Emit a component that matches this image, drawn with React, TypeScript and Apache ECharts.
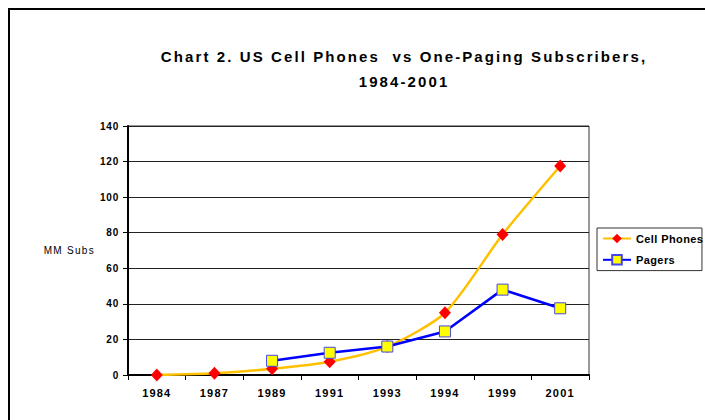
import React, { useEffect, useRef } from "react";
import * as echarts from "echarts";

const years = ["1984", "1987", "1989", "1991", "1993", "1994", "1999", "2001"];
const cellPhones = [0, 1, 3.5, 7.5, 16, 35, 79, 117.5];
const pagers: (number | null)[] = [null, null, 8, 12.5, 16, 24.5, 48, 37.5];
const seriesNames = ["Cell Phones", "Pagers"];
const titleLines = ["Chart 2. US Cell Phones  vs One-Paging Subscribers,", "1984-2001"];
const yAxisName = "MM Subs";
const yMin = 0;
const yMax = 140;
const yInterval = 20;

const FONT = "'Liberation Sans', Arial, sans-serif";

export default function App() {
  const ref = useRef<HTMLDivElement>(null);

  useEffect(() => {
    if (!ref.current) return;
    const chart = echarts.init(ref.current, undefined, { renderer: "svg" });
    chart.setOption({
      animation: false,
      backgroundColor: "#ffffff",
      title: {
        text: titleLines.join("\n"),
        left: 399,
        top: 38.5,
        textAlign: "center",
        textStyle: {
          fontFamily: FONT,
          fontSize: 15,
          fontWeight: "bold",
          color: "#000",
          lineHeight: 25,
        },
      },
      legend: {
        orient: "vertical",
        left: 597,
        top: 228,
        padding: [5, 3, 5, 5],
        itemWidth: 28,
        itemHeight: 12,
        itemGap: 10,
        borderColor: "#333",
        borderWidth: 1,
        backgroundColor: "#fff",
        data: seriesNames,
        textStyle: { fontFamily: FONT, fontSize: 11, fontWeight: "bold", color: "#000" },
      },
      grid: {
        left: 128,
        right: 116,
        top: 126,
        bottom: 45,
        show: true,
        borderColor: "#333",
        borderWidth: 1,
      },
      xAxis: {
        type: "category",
        data: years,
        boundaryGap: true,
        axisLine: { lineStyle: { color: "#000", width: 2 } },
        axisTick: { show: true, length: 5, lineStyle: { color: "#000", width: 1 } },
        axisLabel: {
          fontFamily: FONT,
          fontSize: 11,
          fontWeight: "bold",
          color: "#000",
          margin: 12,
        },
        splitLine: { show: false },
      },
      yAxis: {
        type: "value",
        min: yMin,
        max: yMax,
        interval: yInterval,
        name: yAxisName,
        nameLocation: "middle",
        nameRotate: 0,
        nameGap: 33,
        nameTextStyle: { fontFamily: FONT, fontSize: 10, color: "#000" },
        axisLine: { show: true, lineStyle: { color: "#000", width: 2 } },
        axisTick: { show: true, length: 5, lineStyle: { color: "#000", width: 1 } },
        axisLabel: {
          fontFamily: FONT,
          fontSize: 10,
          fontWeight: "bold",
          color: "#000",
          margin: 9,
        },
        splitLine: { show: true, lineStyle: { color: "#222", width: 1 } },
      },
      series: [
        {
          name: seriesNames[0],
          type: "line",
          data: cellPhones,
          smooth: 0.25,
          symbol: "diamond",
          symbolSize: [12, 13],
          lineStyle: { color: "#FFC000", width: 2.5 },
          itemStyle: { color: "#FF0000", borderWidth: 0 },
          z: 2,
        },
        {
          name: seriesNames[1],
          type: "line",
          data: pagers,
          symbol: "rect",
          symbolSize: 11,
          lineStyle: { color: "#0000FF", width: 2.5 },
          itemStyle: { color: "#FFFF00", borderColor: "#4646E6", borderWidth: 1 },
          z: 3,
        },
      ],
      graphic: [
        {
          type: "rect",
          shape: { x: 9, y: 9, width: 900, height: 600 },
          style: { fill: "none", stroke: "#000", lineWidth: 2 },
          silent: true,
          z: 0,
        },
      ],
    });

    const spacing = (s: string): number | null => {
      if (s.startsWith("Chart 2") || s === "1984-2001") return 2.1;
      if (s === "Cell Phones" || s === "Pagers") return 0.4;
      if (s === yAxisName) return 1.3;
      if (/^\d{4}$/.test(s)) return 1.2;
      if (/^\d{1,3}$/.test(s)) return 0.8;
      return null;
    };
    ref.current.querySelectorAll("text").forEach((t) => {
      const ls = spacing((t.textContent || "").trim());
      if (ls !== null) (t as SVGTextElement).style.letterSpacing = ls + "px";
    });

    return () => chart.dispose();
  }, []);

  return (
    <div
      ref={ref}
      style={{ position: "fixed", left: 0, top: 0, width: 705, height: 420, background: "#fff" }}
    />
  );
}
